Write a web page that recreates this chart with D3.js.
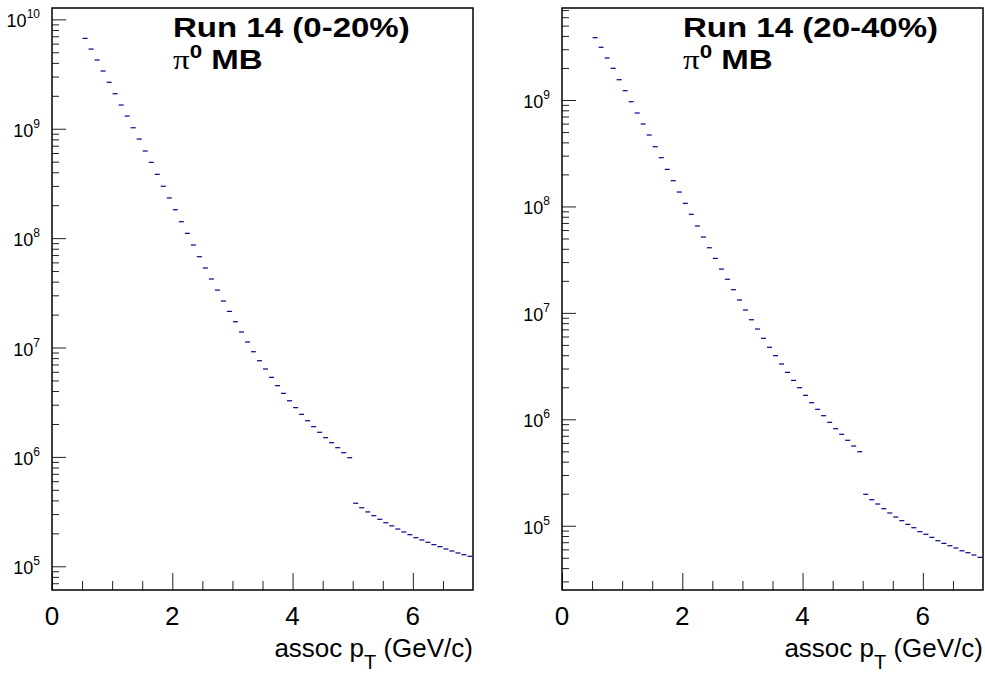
<!DOCTYPE html>
<html>
<head>
<meta charset="utf-8">
<script src="https://cdn.jsdelivr.net/npm/d3@7"></script>
<style>
  html, body { margin: 0; padding: 0; background: #fff; }
  svg { display: block; }
</style>
</head>
<body>
<svg id="chart" width="985" height="675"></svg>
<script>
// ---------------- DATA ----------------
const pTLow = [0.5,0.6,0.7,0.8,0.9,1.0,1.1,1.2,1.3,1.4,
               1.5,1.6,1.7,1.8,1.9,2.0,2.1,2.2,2.3,2.4,
               2.5,2.6,2.7,2.8,2.9,3.0,3.1,3.2,3.3,3.4,
               3.5,3.6,3.7,3.8,3.9,4.0,4.1,4.2,4.3,4.4,
               4.5,4.6,4.7,4.8,4.9,5.0,5.1,5.2,5.3,5.4,
               5.5,5.6,5.7,5.8,5.9,6.0,6.1,6.2,6.3,6.4,
               6.5,6.6,6.7,6.8,6.9];
const binWidth = 0.1;

const yieldCent0020 = [
  6.70e9, 5.35e9, 4.25e9, 3.37e9, 2.66e9, 2.09e9, 1.647e9, 1.306e9, 1.021e9, 8.05e8,
  6.26e8, 4.93e8, 3.83e8, 2.98e8, 2.33e8, 1.818e8, 1.412e8, 1.106e8, 8.65e7, 6.76e7,
  5.33e7, 4.23e7, 3.35e7, 2.66e7, 2.14e7, 1.72e7, 1.386e7, 1.123e7, 9.15e6, 7.57e6,
  6.36e6, 5.34e6, 4.48e6, 3.81e6, 3.26e6, 2.82e6, 2.45e6, 2.14e6, 1.889e6, 1.679e6,
  1.498e6, 1.348e6, 1.214e6, 1.092e6, 9.83e5, 3.77e5, 3.43e5, 3.14e5, 2.90e5, 2.69e5,
  2.50e5, 2.34e5, 2.19e5, 2.06e5, 1.945e5, 1.826e5, 1.740e5, 1.657e5, 1.576e5, 1.511e5,
  1.439e5, 1.380e5, 1.323e5, 1.276e5, 1.234e5];

const yieldCent2040 = [
  3.85e9, 3.13e9, 2.48e9, 1.986e9, 1.551e9, 1.223e9, 9.64e8, 7.55e8, 5.95e8, 4.69e8,
  3.64e8, 2.87e8, 2.23e8, 1.745e8, 1.366e8, 1.070e8, 8.44e7, 6.55e7, 5.16e7, 4.09e7,
  3.25e7, 2.58e7, 2.07e7, 1.651e7, 1.321e7, 1.064e7, 8.62e6, 7.05e6, 5.77e6, 4.75e6,
  3.96e6, 3.31e6, 2.76e6, 2.32e6, 1.981e6, 1.680e6, 1.432e6, 1.241e6, 1.081e6, 9.37e5,
  8.16e5, 7.23e5, 6.35e5, 5.61e5, 4.96e5, 1.974e5, 1.756e5, 1.600e5, 1.445e5, 1.317e5,
  1.207e5, 1.115e5, 1.031e5, 9.58e4, 8.79e4, 8.31e4, 7.78e4, 7.23e4, 6.83e4, 6.49e4,
  6.18e4, 5.82e4, 5.58e4, 5.31e4, 5.05e4];

const xMajorTicks = [0, 2, 4, 6];
const xMinorTicks = [0.5, 1, 1.5, 2.5, 3, 3.5, 4.5, 5, 5.5, 6.5];
const xTickLabels = ["0", "2", "4", "6"];
const xTitle = ["assoc p", "T", " (GeV/c)"];

const panels = [
  { title: "Run 14 (0-20%)", sub: "MB", values: yieldCent0020,
    yDomain: [6.07e4, 1.27e10], decades: [5, 6, 7, 8, 9, 10] },
  { title: "Run 14 (20-40%)", sub: "MB", values: yieldCent2040,
    yDomain: [2.49e4, 7.32e9], decades: [5, 6, 7, 8, 9] }
];

// ---------------- LAYOUT ----------------
const frames = [
  { left: 52, right: 473, top: 8, bottom: 590, titleX: 173 },
  { left: 562, right: 983, top: 8, bottom: 590, titleX: 683 }
];
const svg = d3.select("#chart");
svg.append("rect").attr("width", 985).attr("height", 675).attr("fill", "#fff");

const sans = "'Liberation Sans', Arial, Helvetica, sans-serif";
const serif = "'Liberation Serif', 'Times New Roman', serif";

panels.forEach((p, i) => {
  const f = frames[i];
  const x = d3.scaleLinear().domain([0, 7]).range([f.left, f.right]);
  const y = d3.scaleLog().domain(p.yDomain).range([f.bottom, f.top]);
  const g = svg.append("g");

  // x ticks (inward)
  const xMaj = g.append("g").attr("transform", `translate(0,${f.bottom})`)
    .call(d3.axisBottom(x).tickValues(xMajorTicks).tickSize(-17).tickFormat(""));
  const xMin = g.append("g").attr("transform", `translate(0,${f.bottom})`)
    .call(d3.axisBottom(x).tickValues(xMinorTicks).tickSize(-9).tickFormat(""));

  // y ticks (inward)
  const allY = y.ticks(50).filter(v => v >= p.yDomain[0] && v <= p.yDomain[1]);
  const majY = p.decades.map(e => Math.pow(10, e));
  const minY = allY.filter(v => !majY.some(m => Math.abs(m - v) / m < 1e-6));
  const yMaj = g.append("g").attr("transform", `translate(${f.left},0)`)
    .call(d3.axisLeft(y).tickValues(majY).tickSize(-14).tickFormat(""));
  const yMin = g.append("g").attr("transform", `translate(${f.left},0)`)
    .call(d3.axisLeft(y).tickValues(minY).tickSize(-7).tickFormat(""));

  [xMaj, xMin, yMaj, yMin].forEach(a => {
    a.select(".domain").remove();
    a.selectAll("line").attr("stroke", "#222").attr("stroke-width", 1);
  });

  // x tick labels
  g.selectAll(".xl").data(xMajorTicks).enter().append("text")
    .attr("x", d => x(d)).attr("y", 625)
    .attr("text-anchor", "middle")
    .attr("font-family", sans).attr("font-size", 26)
    .text((d, k) => xTickLabels[k]);

  // y tick labels 10^n
  const yl = g.selectAll(".yl").data(p.decades).enter().append("text")
    .attr("x", f.left - 12).attr("y", d => y(Math.pow(10, d)) + 8)
    .attr("text-anchor", "end")
    .attr("font-family", sans);
  yl.append("tspan").attr("font-size", 18).text("10");
  yl.append("tspan").attr("font-size", 12).attr("dy", -9).text(d => String(d));

  // x title
  const xt = g.append("text").attr("x", f.right).attr("y", 657)
    .attr("text-anchor", "end").attr("font-family", sans).attr("font-size", 26);
  xt.append("tspan").text(xTitle[0]);
  xt.append("tspan").attr("font-size", 20).attr("dy", 12).text(xTitle[1]);
  xt.append("tspan").attr("dy", -12).text(xTitle[2]);

  // data: horizontal bin-width dashes
  g.selectAll(".bin").data(p.values).enter().append("line")
    .attr("x1", (d, k) => x(pTLow[k]) + 0.5)
    .attr("x2", (d, k) => x(pTLow[k] + binWidth) - 0.5)
    .attr("y1", d => y(d)).attr("y2", d => y(d))
    .attr("stroke", "#00008c").attr("stroke-width", 1.2);

  // frame
  g.append("rect").attr("x", f.left).attr("y", f.top)
    .attr("width", f.right - f.left).attr("height", f.bottom - f.top)
    .attr("fill", "none").attr("stroke", "#000").attr("stroke-width", 1.5);

  // titles
  const t1 = g.append("g").attr("transform", `translate(${f.titleX},37) scale(1.18,1)`);
  t1.append("text").attr("font-family", sans).attr("font-weight", "bold")
    .attr("font-size", 28).text(p.title);
  const t2 = g.append("g").attr("transform", `translate(${f.titleX},69) scale(1.18,1)`);
  const tt = t2.append("text").attr("font-family", sans).attr("font-weight", "bold").attr("font-size", 28);
  tt.append("tspan").attr("font-family", serif).attr("font-weight", "normal").text("\u03c0");
  tt.append("tspan").attr("font-size", 19).attr("dy", -11).text("0");
  tt.append("tspan").attr("dy", 11).text(" " + p.sub);
});
</script>
</body>
</html>
